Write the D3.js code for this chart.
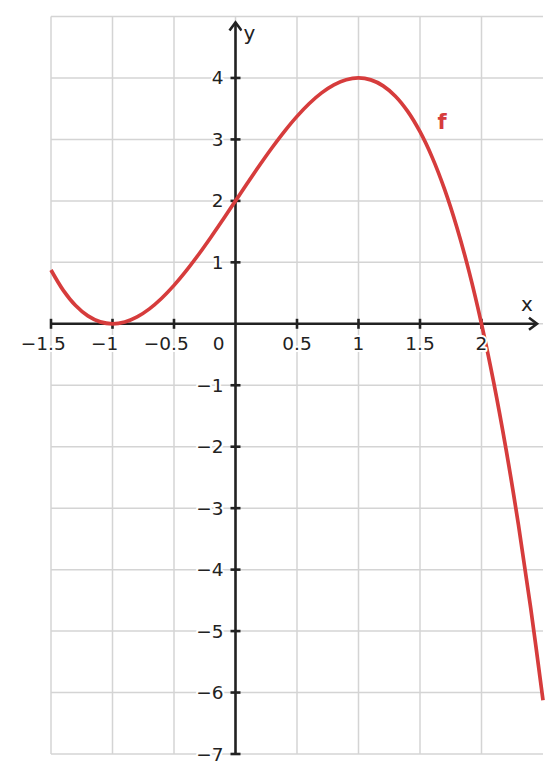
<!DOCTYPE html>
<html><head><meta charset="utf-8">
<script src="https://cdn.jsdelivr.net/npm/d3@7"></script>
<style>body{margin:0;background:#fff}svg{display:block}text{font-family:"DejaVu Sans",sans-serif}</style>
</head><body><svg id="c" width="560" height="783"></svg>
<script>
const xValues = [-1.5,-1.4,-1.3,-1.2,-1.1,-1.0,-0.9,-0.8,-0.7,-0.6,-0.5,-0.4,-0.3,-0.2,-0.1,0,0.1,0.2,0.3,0.4,0.5,0.6,0.7,0.8,0.9,1.0,1.1,1.2,1.3,1.4,1.5,1.6,1.7,1.8,1.9,2.0,2.1,2.2,2.3,2.4,2.5];
const yValues = [0.875,0.544,0.297,0.128,0.031,0,0.029,0.112,0.243,0.416,0.625,0.864,1.127,1.408,1.701,2,2.299,2.592,2.873,3.136,3.375,3.584,3.757,3.888,3.971,4,3.969,3.872,3.703,3.456,3.125,2.704,2.187,1.568,0.841,0,-0.961,-2.048,-3.267,-4.624,-6.125];
const xTicks = [-1.5,-1,-0.5,0.5,1,1.5,2];
const xTickLabels = ["\u22121.5","\u22121","\u22120.5","0.5","1","1.5","2"];
const yTicks = [4,3,2,1,-1,-2,-3,-4,-5,-6,-7];
const yTickLabels = ["4","3","2","1","\u22121","\u22122","\u22123","\u22124","\u22125","\u22126","\u22127"];
const xGrid = [-1.5,-1,-0.5,0,0.5,1,1.5,2];
const yGrid = [5,4,3,2,1,0,-1,-2,-3,-4,-5,-6,-7];
const curveLabel = "f";

const svg = d3.select("#c");
const x = d3.scaleLinear().domain([-1.5,2.5]).range([51,543]);
const y = d3.scaleLinear().domain([-7,5]).range([754,16.5]);
const gridC = "#d4d4d4", axisC = "#222", red = "#d63c3c";
const fs = 18.5;

const g = svg.append("g");
g.selectAll(".vg").data(xGrid).join("line")
  .attr("x1",d=>x(d)).attr("x2",d=>x(d)).attr("y1",y(5)).attr("y2",y(-7))
  .attr("stroke",gridC).attr("stroke-width",1.5);
g.selectAll(".hg").data(yGrid).join("line")
  .attr("x1",x(-1.5)).attr("x2",x(2.5)).attr("y1",d=>y(d)).attr("y2",d=>y(d))
  .attr("stroke",gridC).attr("stroke-width",1.5);

// axes
const ax = svg.append("g").attr("stroke",axisC).attr("stroke-width",2.6).attr("fill","none");
ax.append("line").attr("x1",x(-1.5)).attr("x2",x(2.5)-6).attr("y1",y(0)).attr("y2",y(0));
ax.append("line").attr("x1",x(0)).attr("x2",x(0)).attr("y1",y(-7)).attr("y2",y(5)+6);
const x0 = x(2.5)-6, y0 = y(0);
ax.append("path").attr("d",`M${x0-8},${y0-6}L${x0},${y0}L${x0-8},${y0+6}`);
const ax0 = x(0), ay0 = y(5)+6;
ax.append("path").attr("d",`M${ax0-6},${ay0+8}L${ax0},${ay0}L${ax0+6},${ay0+8}`);
ax.selectAll(".xt").data(xTicks).join("line")
  .attr("x1",d=>x(d)).attr("x2",d=>x(d)).attr("y1",y(0)-5).attr("y2",y(0)+5);
ax.selectAll(".yt").data(yTicks).join("line")
  .attr("x1",x(0)-5).attr("x2",x(0)+5).attr("y1",d=>y(d)).attr("y2",d=>y(d));

// curve
const pts = xValues.map((v,i)=>[v,yValues[i]]);
svg.append("path").datum(pts)
  .attr("d",d3.line().x(d=>x(d[0])).y(d=>y(d[1])).curve(d3.curveCatmullRom))
  .attr("fill","none").attr("stroke",red).attr("stroke-width",3.7);

// labels
const lab = svg.append("g").attr("font-size",fs).attr("fill","#222")
  .attr("stroke","#fff").attr("stroke-width",4).attr("paint-order","stroke").attr("stroke-linejoin","round");
// measure minus width so the numeral is centred on the tick
const tmp = lab.append("text").text("\u2212");
const minusW = tmp.node().getComputedTextLength();
tmp.remove();
lab.selectAll(".xl").data(xTicks).join("text")
  .attr("x",d=>x(d) - (d<0 ? minusW/2 : 0)).attr("y",y(0)+26).attr("text-anchor","middle").text((d,i)=>xTickLabels[i]);
lab.append("text").attr("x",x(0)-11).attr("y",y(0)+26).attr("text-anchor","end").text("0");
lab.selectAll(".yl").data(yTicks).join("text")
  .attr("x",x(0)-12).attr("y",d=>y(d)+6.5).attr("text-anchor","end").text((d,i)=>yTickLabels[i]);
lab.append("text").attr("x",x(2.5)-16).attr("y",y(0)-13).attr("text-anchor","middle").attr("font-size",20).text("x");
lab.append("text").attr("x",x(0)+14).attr("y",y(5)+23).attr("text-anchor","middle").attr("font-size",20).text("y");
svg.append("text").attr("x",x(1.68)).attr("y",y(3.2)+2).attr("text-anchor","middle")
  .attr("font-size",21).attr("font-weight","bold").attr("fill",red).text(curveLabel);
</script></body></html>
